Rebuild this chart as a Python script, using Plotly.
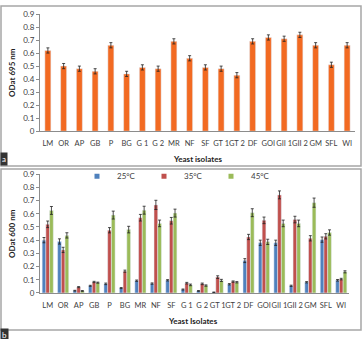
import plotly.graph_objects as go

W, H = 364, 339

isolates = ["LM", "OR", "AP", "GB", "P", "BG", "G 1", "G 2", "MR", "NF", "SF", "GT 1", "GT 2",
            "DF", "GOI", "GII 1", "GII 2", "GM", "SFL", "WI"]
isolates_b = ["LM", "OR", "AP", "GB", "P", "BG", "MR", "NF", "SF", "G 1", "G 2", "GT 1", "GT 2",
              "DF", "GOI", "GII 1", "GII 2", "GM", "SFL", "WI"]

od695 = [0.62, 0.50, 0.48, 0.46, 0.66, 0.44, 0.49, 0.48, 0.69, 0.56, 0.49, 0.48, 0.43,
         0.69, 0.72, 0.71, 0.74, 0.66, 0.51, 0.66]
od695_err = [0.02] * 20

t25 = [0.40, 0.39, 0.017, 0.054, 0.069, 0.037, 0.093, 0.071, 0.096, 0.026, 0.015, 0.005, 0.066,
       0.245, 0.38, 0.38, 0.054, 0.081, 0.404, 0.096]
t35 = [0.52, 0.326, 0.044, 0.083, 0.475, 0.165, 0.57, 0.667, 0.547, 0.074, 0.069, 0.12, 0.086,
       0.424, 0.55, 0.743, 0.556, 0.414, 0.429, 0.105]
t45 = [0.625, 0.436, 0.015, 0.078, 0.59, 0.48, 0.627, 0.527, 0.605, 0.061, 0.056, 0.095, 0.081,
       0.608, 0.387, 0.527, 0.527, 0.684, 0.458, 0.16]
t25_err = [0.02, 0.02, 0.003, 0.004, 0.006, 0.004, 0.005, 0.005, 0.005, 0.004, 0.003, 0.002, 0.005,
           0.015, 0.02, 0.02, 0.005, 0.005, 0.02, 0.006]
t35_err = [0.025, 0.02, 0.004, 0.005, 0.02, 0.008, 0.025, 0.035, 0.025, 0.006, 0.006, 0.01, 0.005,
           0.02, 0.025, 0.03, 0.025, 0.02, 0.02, 0.006]
t45_err = [0.03, 0.02, 0.003, 0.004, 0.03, 0.025, 0.03, 0.025, 0.03, 0.006, 0.005, 0.008, 0.005,
           0.03, 0.02, 0.025, 0.025, 0.035, 0.02, 0.008]

FONT = "Lato"
ORANGE = "#F26A22"
BLUE = "#4F81BD"
RED = "#C0504D"
GREEN = "#9BBB59"

def px_x(x):
    return x / W

def px_y(y):
    return 1 - y / H

err_style = dict(type="data", color="#222", thickness=0.8, width=1.5)

fig = go.Figure()
fig.add_trace(go.Bar(x=isolates, y=od695, marker_color=ORANGE, width=0.38,
                     error_y=dict(array=od695_err, **err_style),
                     xaxis="x", yaxis="y", showlegend=False))
series = [("25°C", t25, t25_err, BLUE, -0.36),
          ("35°C", t35, t35_err, RED, -0.12),
          ("45°C", t45, t45_err, GREEN, 0.12)]
for name, vals, errs, col, off in series:
    fig.add_trace(go.Bar(x=isolates_b, y=vals, name=name, marker_color=col,
                         width=0.24, offset=off, showlegend=False,
                         error_y=dict(array=errs, **err_style),
                         xaxis="x2", yaxis="y2"))
# legend keys (no data points)
for name, vals, errs, col, off in series:
    fig.add_trace(go.Scatter(x=[None], y=[None], mode="markers", name=name,
                             marker=dict(symbol="square", size=5, color=col),
                             xaxis="x2", yaxis="y2"))

axis_common = dict(showgrid=False, zeroline=False, showline=True, linecolor="#8c8c8c",
                   linewidth=1)
xtick_font = dict(family=FONT, size=7.5, color="#404040")
ytick_font = dict(family=FONT, size=8, color="#404040")

fig.update_layout(
    width=W, height=H,
    margin=dict(l=0, r=0, t=0, b=0),
    paper_bgcolor="white", plot_bgcolor="white",
    font=dict(family=FONT, size=8, color="#404040"),
    xaxis=dict(domain=[px_x(40), px_x(355)], anchor="y", ticks="outside", ticklen=5,
               tickcolor="rgba(0,0,0,0)", tickangle=0, tickfont=xtick_font,
               type="category", **axis_common),
    yaxis=dict(domain=[px_y(130), px_y(9.3)], anchor="x", range=[0, 0.9], dtick=0.1,
               ticks="outside", ticklen=3, tickcolor="#8c8c8c", tickfont=ytick_font,
               **axis_common),
    xaxis2=dict(domain=[px_x(40), px_x(349)], anchor="y2", ticks="outside", ticklen=5,
                tickcolor="rgba(0,0,0,0)", tickangle=0, tickfont=xtick_font,
                type="category", **axis_common),
    yaxis2=dict(domain=[px_y(296.7), px_y(174.3)], anchor="x2", range=[0, 0.9], dtick=0.1,
                ticks="outside", ticklen=3, tickcolor="#8c8c8c", tickfont=ytick_font,
                **axis_common),
    legend=dict(orientation="h", x=px_x(77), y=px_y(176.5), xanchor="left", yanchor="middle",
                font=dict(family=FONT, size=8, color="#404040"), bgcolor="rgba(0,0,0,0)",
                entrywidth=22, entrywidthmode="pixels", itemwidth=30, itemsizing="trace",
                tracegroupgap=0),
)

annots = [
    dict(text="<b>ODat 695 nm</b>", x=px_x(12), y=px_y(70), textangle=-90),
    dict(text="<b>ODat 600 nm</b>", x=px_x(12), y=px_y(236), textangle=-90),
    dict(text="<b>Yeast isolates</b>", x=px_x(197), y=px_y(159)),
    dict(text="<b>Yeast Isolates</b>", x=px_x(193), y=px_y(326)),
]
for a in annots:
    fig.add_annotation(xref="paper", yref="paper", showarrow=False,
                       font=dict(family=FONT, size=8, color="#222"),
                       xanchor="center", yanchor="middle", **a)

fig.add_annotation(xref="paper", yref="paper", x=0, y=px_y(158.5), text="a", showarrow=False,
                   xanchor="left", yanchor="middle", bgcolor="#333", borderpad=1,
                   font=dict(family=FONT, size=8, color="white"))
fig.add_annotation(xref="paper", yref="paper", x=0, y=px_y(340), text="b", showarrow=False,
                   xanchor="left", yanchor="middle", bgcolor="#333", borderpad=1,
                   font=dict(family=FONT, size=8, color="white"))

for (x0, y0, x1, y1) in [(1, 1, 361, 166), (1, 169, 361, 335)]:
    fig.add_shape(type="rect", xref="paper", yref="paper",
                  x0=px_x(x0), x1=px_x(x1), y0=px_y(y1), y1=px_y(y0),
                  line=dict(color="#a6a6a6", width=1.5), layer="below")

fig.write_html("out.html")
